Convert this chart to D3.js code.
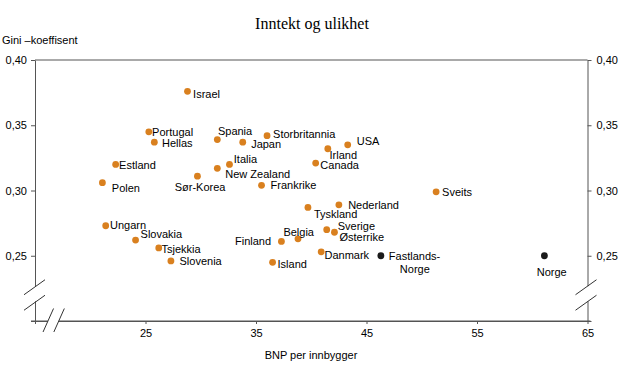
<!DOCTYPE html>
<html><head><meta charset="utf-8">
<script src="https://cdn.jsdelivr.net/npm/d3@7"></script>
<style>
html,body{margin:0;padding:0;background:#fff;}
svg{display:block;}
text{font-family:"Liberation Sans",Arial,Helvetica,sans-serif;}
</style></head>
<body>
<svg id="chart" width="620" height="378"></svg>
<script>
// ---- data ----
const countries = ["Israel","Portugal","Hellas","Spania","Japan","Storbritannia","USA","Irland","Canada","Estland","Italia","New Zealand","Sør-Korea","Polen","Frankrike","Sveits","Nederland","Tyskland","Ungarn","Slovakia","Tsjekkia","Slovenia","Island","Finland","Belgia","Sverige","Østerrike","Danmark","Fastlands-Norge","Norge"];
const gdp = [28.8,25.3,25.8,31.5,33.8,36.0,43.3,41.5,40.4,22.3,32.6,31.5,29.7,21.1,35.5,51.3,42.5,39.7,21.4,24.1,26.2,27.3,36.5,37.3,38.8,41.4,42.1,40.9,46.3,61.1];
const gini = [0.376,0.345,0.337,0.339,0.337,0.342,0.335,0.332,0.321,0.320,0.320,0.317,0.311,0.306,0.304,0.299,0.289,0.287,0.273,0.262,0.256,0.246,0.245,0.261,0.263,0.270,0.268,0.253,0.250,0.250];
const group = ["oecd","oecd","oecd","oecd","oecd","oecd","oecd","oecd","oecd","oecd","oecd","oecd","oecd","oecd","oecd","oecd","oecd","oecd","oecd","oecd","oecd","oecd","oecd","oecd","oecd","oecd","oecd","oecd","norge","norge"];
const xTicks = [15,25,35,45,55,65];
const yTicks = [0.20,0.25,0.30,0.35,0.40];
const xTickLabels = ["","25","35","45","55","65"];
const yTickLabels = ["","0,25","0,30","0,35","0,40"];
const title = "Inntekt og ulikhet";
const yTitle = "Gini –koeffisent";
const xTitle = "BNP per innbygger";

// ---- label placement (layout) ----
const labelPos = {
  "Israel":[5.6,2.6],"Portugal":[3.3,0.4],"Hellas":[7.7,1],"Spania":[0.6,-8],"Japan":[8.4,1.6],
  "Storbritannia":[6,-1.7],"USA":[9,-3.3],"Irland":[1.7,6],"Canada":[4.7,2.4],"Estland":[3.4,0.7],
  "Italia":[4.3,-5.7],"New Zealand":[8,6.3],"Sør-Korea":[-22.7,10.6],"Polen":[9.4,5],"Frankrike":[9,0],
  "Sveits":[6,0.4],"Nederland":[9.3,0.7],"Tyskland":[6,7],"Ungarn":[4.3,-0.3],"Slovakia":[5,-6.4],
  "Tsjekkia":[2.7,1],"Slovenia":[8.6,0],"Island":[5,2],"Finland":[-10.3,0,"end"],"Belgia":[-14.6,-7],
  "Sverige":[11,-3.9],"Østerrike":[5,4.6],"Danmark":[3.3,3.7],"Norge":[-7.7,16]
};

const svg = d3.select("#chart");
const L = 35, R = 587.5, T = 60, B = 321;
const x = d3.scaleLinear().domain([15,65]).range([L,R]);
const y = d3.scaleLinear().domain([0.20,0.40]).range([B,T]);
const axisColor = "#555";

// titles
svg.append("text").attr("x",312).attr("y",29).attr("text-anchor","middle")
  .style("font-family","'Liberation Serif','Times New Roman',serif").style("font-size","16px").text(title);
svg.append("text").attr("x",2).attr("y",44).style("font-size","11px").text(yTitle);
svg.append("text").attr("x",311).attr("y",359).attr("text-anchor","middle").style("font-size","11px").text(xTitle);

// axes
const gx = svg.append("g").attr("transform",`translate(0,${B})`)
  .call(d3.axisBottom(x).tickValues(xTicks).tickFormat((d,i)=>xTickLabels[i]).tickSize(3).tickPadding(5).tickSizeOuter(0));
const gyl = svg.append("g").attr("transform",`translate(${L},0)`)
  .call(d3.axisLeft(y).tickValues(yTicks).tickFormat((d,i)=>yTickLabels[i]).tickSize(4).tickPadding(4).tickSizeOuter(0));
const gyr = svg.append("g").attr("transform",`translate(${R},0)`)
  .call(d3.axisRight(y).tickValues(yTicks).tickFormat((d,i)=>yTickLabels[i]).tickSize(4).tickPadding(5).tickSizeOuter(0));
[gx,gyl,gyr].forEach(g=>{
  g.selectAll("path,line").attr("stroke",axisColor);
  g.selectAll("text").style("font-size","11px").style("font-family","'Liberation Sans',Arial,sans-serif").attr("fill","#000");
});
// extend x axis slightly beyond y axes
svg.append("line").attr("x1",L-4).attr("x2",R+3).attr("y1",B).attr("y2",B).attr("stroke",axisColor);
// top frame line
svg.append("line").attr("x1",L).attr("x2",R).attr("y1",y(0.40)).attr("y2",y(0.40)).attr("stroke",axisColor);

// axis break marks
function yBreak(cx){
  const yc = y(0.2205);
  svg.append("rect").attr("x",cx-3).attr("y",yc-8).attr("width",6).attr("height",15).attr("fill","#fff");
  [-7.5,8].forEach(o=>{
    svg.append("line").attr("x1",cx-11).attr("y1",yc+o+8).attr("x2",cx+10).attr("y2",yc+o-7)
      .attr("stroke","#333").attr("stroke-width",1);
  });
}
yBreak(L); yBreak(R-1);
(function(){
  const xc = x(16.66);
  svg.append("rect").attr("x",xc-5.5).attr("y",B-3).attr("width",11).attr("height",6).attr("fill","#fff");
  [-5.3,5.5].forEach(o=>{
    svg.append("line").attr("x1",xc+o-5).attr("y1",B+11).attr("x2",xc+o+5.5).attr("y2",B-12.5)
      .attr("stroke","#333").attr("stroke-width",1);
  });
})();

// points
const data = countries.map((c,i)=>({c, gx:gdp[i], gi:gini[i], g:group[i]}));
svg.append("g").selectAll("circle").data(data).join("circle")
  .attr("cx",d=>x(d.gx)).attr("cy",d=>y(d.gi)).attr("r",3.4)
  .attr("fill",d=>d.g==="norge"?"#1a1a1a":"#d9801f");

// labels
const lg = svg.append("g").style("font-size","11px");
data.forEach(d=>{
  const px = x(d.gx), py = y(d.gi);
  if(d.c==="Fastlands-Norge"){
    lg.append("text").attr("x",px+8).attr("y",py+0.7).attr("dy","0.35em").text("Fastlands-");
    lg.append("text").attr("x",px+19).attr("y",py+13.3).attr("dy","0.35em").text("Norge");
    return;
  }
  const p = labelPos[d.c];
  lg.append("text").attr("x",px+p[0]).attr("y",py+p[1]).attr("dy","0.35em")
    .attr("text-anchor",p[2]||"start").text(d.c);
});
</script>
</body></html>
